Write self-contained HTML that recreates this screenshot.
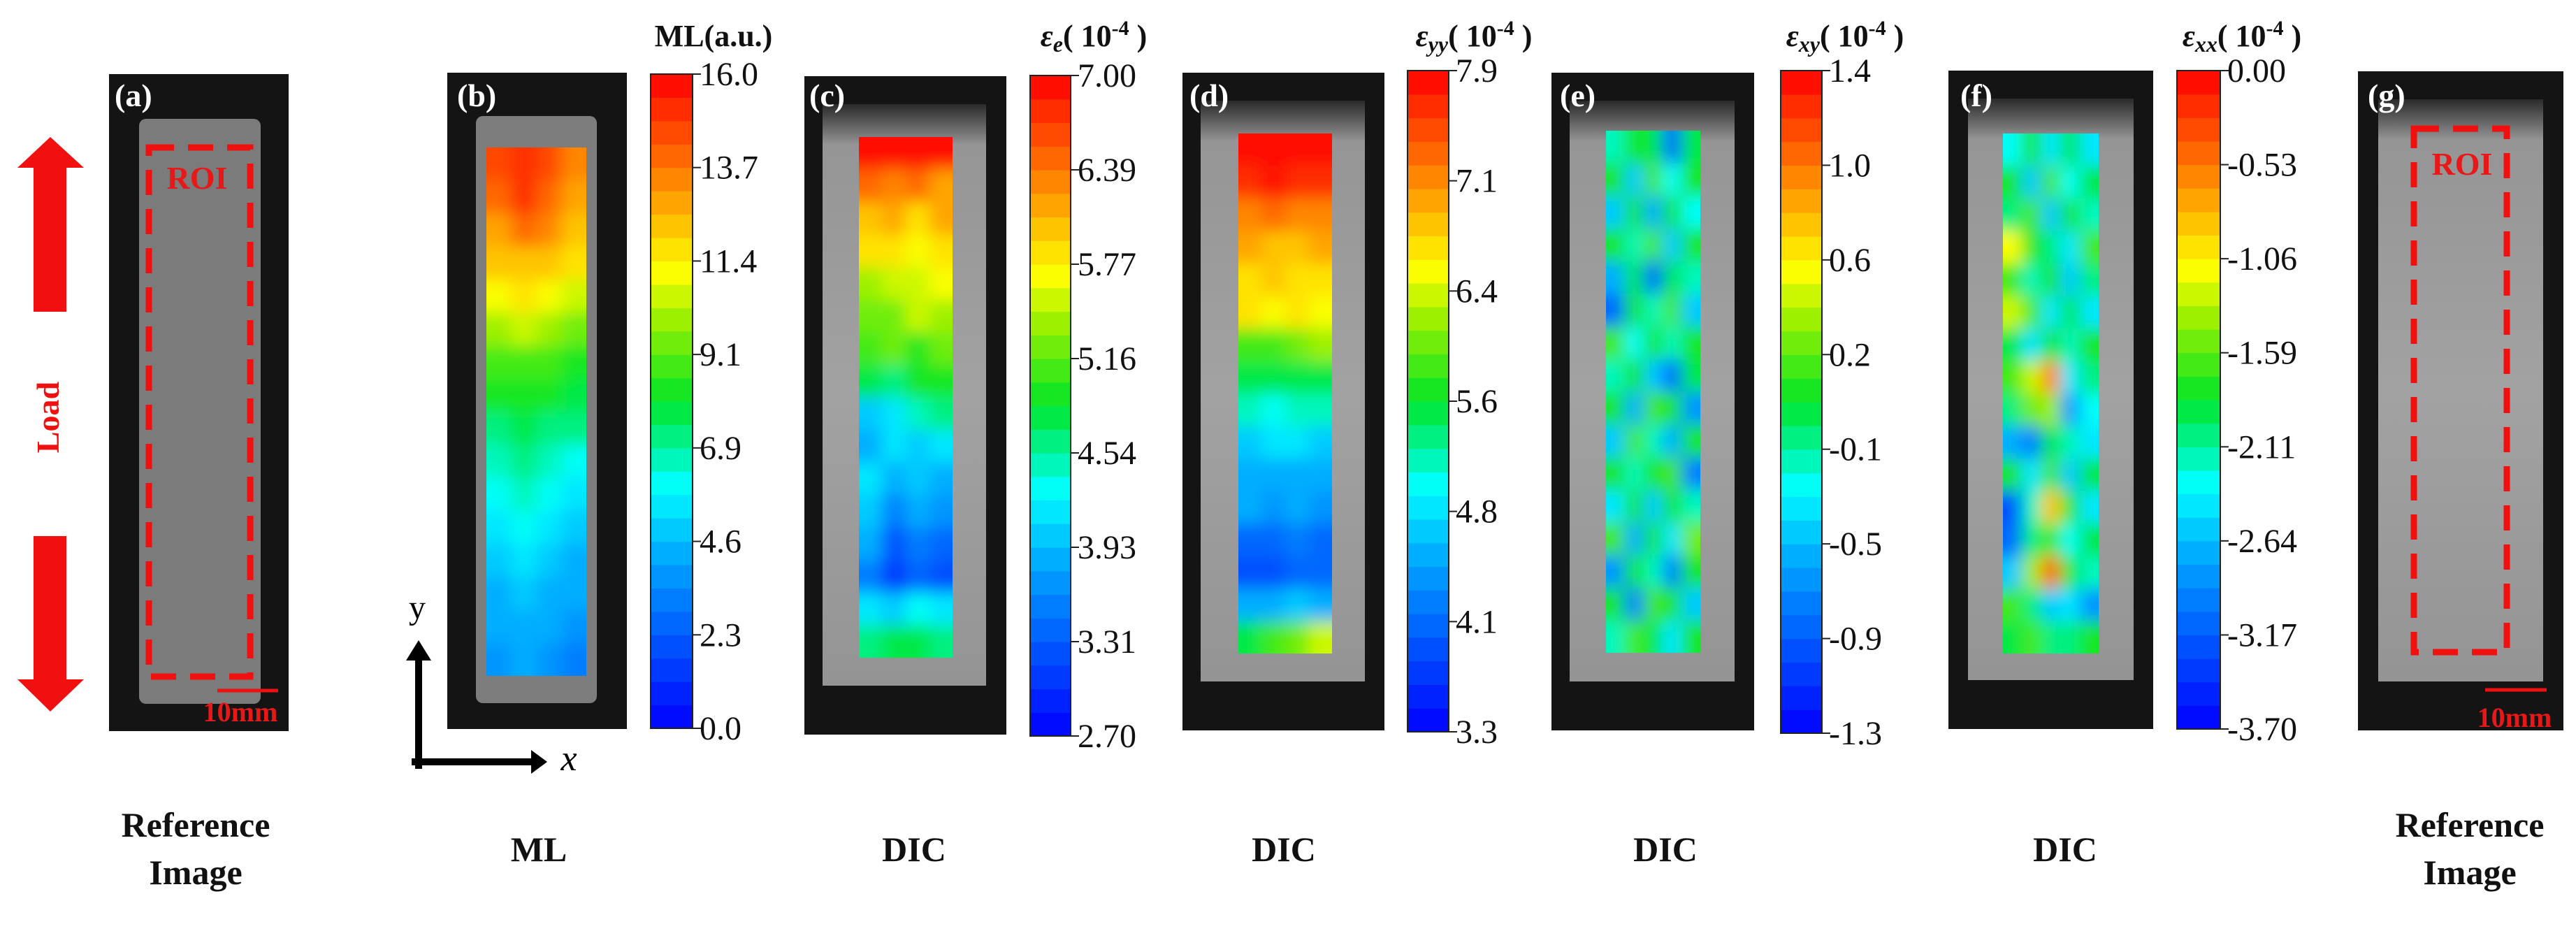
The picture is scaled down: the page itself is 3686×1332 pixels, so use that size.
<!DOCTYPE html>
<html><head><meta charset="utf-8"><style>
html,body{margin:0;padding:0;background:#fff;}
svg{display:block;}
</style></head><body>
<svg id="fig" width="3686" height="1332" viewBox="0 0 3686 1332" xmlns="http://www.w3.org/2000/svg" font-family="Liberation Serif, serif">
<defs>
<linearGradient id="spk" x1="0" y1="0" x2="0" y2="1">
<stop offset="0" stop-color="#2a2a2a"/><stop offset="0.07" stop-color="#959595"/><stop offset="0.5" stop-color="#a2a2a2"/><stop offset="1" stop-color="#949494"/>
</linearGradient>
<filter id="blr" x="-5%" y="-5%" width="110%" height="110%"><feGaussianBlur stdDeviation="12"/></filter>
</defs>
<g id="root" font-family="Liberation Serif, serif"></g>
</svg>
<script>
// ---------- data ----------
const mlTicks = ["16.0","13.7","11.4","9.1","6.9","4.6","2.3","0.0"];
const ceTicks = ["7.00","6.39","5.77","5.16","4.54","3.93","3.31","2.70"];
const cyyTicks = ["7.9","7.1","6.4","5.6","4.8","4.1","3.3"];
const cxyTicks = ["1.4","1.0","0.6","0.2","-0.1","-0.5","-0.9","-1.3"];
const cxxTicks = ["0.00","-0.53","-1.06","-1.59","-2.11","-2.64","-3.17","-3.70"];
const mlRange = [0,16], eRange = [2.7,7.0], yyRange = [3.3,7.9], xyRange = [-1.3,1.4], xxRange = [-3.7,0];
const mlGrid = [[14.5,15,14.5,13.5],[14,15,14,13],[13,14,13.5,12.5],[12,12.5,12,11.5],[11,11.5,11,10.5],[10,10.5,10,9.5],[9,9,9,8.5],[8,8.5,8,7.5],[7,7.5,7,7],[6.5,7,6.5,6],[6,6.5,6,5.5],[5.5,6,5.5,5],[5,5.5,5,4.5],[4.5,5,4.5,4],[4,4.5,4,3.5],[3.5,4,3.5,3]];
const eGrid = [[7,7,7,7],[6.4,6.3,6.5,6.2],[6.0,6.2,5.9,6.1],[5.8,5.9,5.7,5.8],[5.4,5.6,5.5,5.7],[5.2,5.3,5.6,5.4],[5.1,5.2,5.0,5.3],[4.8,4.6,4.9,5.0],[4.0,4.2,4.4,4.6],[3.9,4.1,4.0,4.2],[4.2,3.8,4.0,3.9],[4.0,3.6,3.8,3.7],[3.8,3.2,3.6,3.4],[3.6,3.1,3.4,3.2],[4.2,4.0,4.3,4.1],[4.6,4.7,4.8,4.6]];
const yyGrid = [[7.9,7.9,7.9,7.9],[7.7,7.8,7.7,7.6],[7.2,7.3,7.1,7.2],[7.0,6.9,6.9,7.0],[6.7,6.8,6.7,6.6],[6.6,6.5,6.6,6.5],[5.8,5.9,6.0,6.1],[5.6,5.5,5.6,5.5],[5.2,5.1,5.2,5.2],[4.7,4.8,4.8,4.7],[4.5,4.5,4.6,4.5],[4.6,4.4,4.5,4.3],[4.1,4.0,4.2,4.1],[3.9,3.9,4.0,4.1],[4.6,4.5,4.7,4.6],[5.6,5.9,6.0,6.3]];
const xyGrid = [[-0.2,0.1,0.0,-0.9,0.0],[0.1,-0.5,0.2,-0.3,0.1],[-0.5,0.1,-0.6,0.1,-0.3],[0.1,-0.2,0.2,-0.5,0.1],[-0.6,0.0,-0.9,0.0,-0.2],[-0.9,0.1,-0.2,0.2,-0.5],[0.2,-0.3,0.1,-0.2,0.1],[-0.2,0.1,-0.5,-0.9,0.0],[0.1,-0.6,0.2,0.1,-0.7],[-0.5,0.2,-0.2,-0.6,0.1],[0.1,-0.2,0.1,0.2,-0.8],[-0.4,0.1,-0.5,0.1,-0.2],[0.2,-0.6,0.1,-0.4,0.3],[-0.7,0.1,-0.2,-0.8,0.1],[0.1,-0.8,0.2,0.1,-0.5],[-0.2,0.2,0.0,-0.4,0.1]];
const xxGrid = [[-2.3,-1.8,-2.5,-1.9,-2.4],[-1.8,-2.6,-1.7,-2.3,-1.9],[-2.0,-1.7,-2.6,-1.8,-2.2],[-1.1,-1.8,-2.0,-2.5,-1.6],[-1.6,-2.2,-1.8,-2.6,-2.0],[-1.3,-1.6,-2.4,-1.9,-2.5],[-1.9,-2.5,-1.8,-2.2,-1.8],[-1.6,-1.2,-0.6,-2.4,-2.0],[-2.0,-1.5,-1.4,-2.8,-2.3],[-2.7,-3.0,-1.9,-2.2,-2.5],[-1.8,-2.4,-1.6,-2.6,-1.9],[-3.3,-2.2,-0.9,-1.8,-2.4],[-3.1,-2.0,-1.7,-2.3,-1.9],[-2.6,-1.4,-0.4,-1.9,-2.2],[-1.7,-2.1,-2.6,-2.5,-2.8],[-1.9,-1.6,-2.0,-2.1,-1.8]];

// ---------- helpers ----------
const NS="http://www.w3.org/2000/svg";
const root=document.getElementById('root');
function mk(tag,attrs,parent){const e=document.createElementNS(NS,tag);for(const k in attrs)e.setAttribute(k,attrs[k]);(parent||root).appendChild(e);return e;}
const stops=[[0,[0,0,255]],[0.25,[0,160,255]],[0.37,[0,255,255]],[0.5,[0,230,40]],[0.62,[150,240,0]],[0.7,[255,255,0]],[0.82,[255,150,0]],[1,[255,0,0]]];
function jet(t){t=Math.max(0,Math.min(1,t));
 for(let i=1;i<stops.length;i++){if(t<=stops[i][0]){const a=stops[i-1],b=stops[i];const f=(t-a[0])/(b[0]-a[0]);
  const c=a[1].map((v,k)=>Math.round(v+(b[1][k]-v)*f));return `rgb(${c[0]},${c[1]},${c[2]})`;}}
 return 'rgb(255,0,0)';}
const NB=28;
function quant(t){return (Math.floor(Math.min(0.9999,Math.max(0,t))*NB)+0.5)/NB;}
function txt(x,y,s,size,opts,parent){const t=mk('text',Object.assign({x:x,y:y,'font-size':size,'font-family':'Liberation Serif, serif'},opts||{}),parent);t.textContent=s;return t;}

function frame(name,x,y,w,h){const r=mk('rect',{x:x,y:y,width:w,height:h,fill:'#141414'});return r;}
function panelLabel(s,x,y){const t=txt(x,y,s,46,{fill:'#fff','font-weight':'bold'});}

function heatmap(name,grid,range,x,y,w,h){
 const g=mk('g',{});
 const cid='clip-'+name;const cp=mk('clipPath',{id:cid},g);mk('rect',{x:x,y:y,width:w,height:h},cp);
 const inner=mk('g',{'clip-path':`url(#${cid})`},g);
 const sc=v=>(v-range[0])/(range[1]-range[0]);
 let sum=0,n=0;grid.forEach(r=>r.forEach(v=>{sum+=v;n++;}));
 mk('rect',{x:x,y:y,width:w,height:h,fill:jet(sc(sum/n))},inner);
 const bl=mk('g',{filter:'url(#blr)'},inner);
 const rows=grid.length,cols=grid[0].length,cw=w/cols,ch=h/rows;
 grid.forEach((row,i)=>row.forEach((v,j)=>{
  const c=mk('rect',{x:x+j*cw-(j==0?30:0),y:y+i*ch-(i==0?30:0),width:cw+(j==0||j==cols-1?31:1),height:ch+(i==0||i==rows-1?31:1),fill:jet(quant(sc(v)))},bl);
  
 }));
}

function colorbar(name,ticks,x,y,w,h,titleParts,tx){
 const g=mk('g',{});
 for(let i=0;i<NB;i++){
  const r=mk('rect',{x:x,y:y+h*(NB-1-i)/NB,width:w,height:h/NB+0.6,fill:jet((i+0.5)/NB)},g);
  
 }
 mk('rect',{x:x,y:y,width:w,height:h,fill:'none',stroke:'#222','stroke-width':2},g);
 ticks.forEach((s,i)=>{
  const ty=y+h*i/(ticks.length-1);
  const tk=mk('line',{x1:x+w,x2:x+w+12,y1:ty,y2:ty,stroke:'#222','stroke-width':2},g);
  
  const t=txt(x+w+10,ty+16,s,48,{fill:'#111'},g);
  
 });
 const t=mk('text',{x:tx,y:66,'font-size':44,'font-weight':'bold','text-anchor':'middle',fill:'#111','font-family':'Liberation Serif, serif'},g);
 
 titleParts(t);
}
function epsTitle(sub){return t=>{
 const a=mk('tspan',{'font-style':'italic'},t);a.textContent='ε';
 const b=mk('tspan',{'font-style':'italic','font-size':32,dy:8},t);b.textContent=sub;
 const c=mk('tspan',{dy:-8},t);c.textContent='( 10';
 const d=mk('tspan',{'font-size':30,dy:-16},t);d.textContent='-4';
 const e=mk('tspan',{dy:16},t);e.textContent=' )';
};}
function bottomLabel(lines,cx){lines.forEach((s,i)=>{const t=txt(cx,lines.length>1?1197+i*68:1232,s,50,{'font-weight':'bold','text-anchor':'middle',fill:'#111'});});}
function roi(x,y,w,h,tx,ty){const r=mk('rect',{x:x,y:y,width:w,height:h,fill:'none',stroke:'#f01010','stroke-width':9,'stroke-dasharray':'36,20'});
 const t=txt(tx,ty,'ROI',46,{fill:'#e81818','font-weight':'bold','text-anchor':'middle'});}
function scalebar(x1,x2,y,tx,ty){const l=mk('line',{x1:x1,x2:x2,y1:y,y2:y,stroke:'#f01010','stroke-width':5});
 const t=txt(tx,ty,'10mm',40,{fill:'#e81818','font-weight':'bold','text-anchor':'middle'});}

// ---------- panel a ----------
frame('panel-a-frame',156,106,257,940);
mk('rect',{x:199,y:170,width:174,height:837,rx:10,fill:'#7b7b7b'});
roi(213,211,145,757,282,270);
scalebar(311,398,988,344,1032);
panelLabel('(a)',164,152);
const up=mk('path',{d:'M48,446 L48,240 L25,240 L72,196 L120,240 L95,240 L95,446 Z',fill:'#f01010'});
const dn=mk('path',{d:'M48,767 L48,972 L25,972 L72,1018 L120,972 L95,972 L95,767 Z',fill:'#f01010'});
const ld=txt(0,0,'Load',46,{fill:'#f01010','font-weight':'bold','text-anchor':'middle',transform:'translate(84,597) rotate(-90)'});
bottomLabel(['Reference','Image'],280);

// ---------- panel b ----------
frame('panel-b-frame',640,104,257,939);
mk('rect',{x:681,y:166,width:173,height:840,rx:10,fill:'#7d7d7d'});
heatmap('ml-map',mlGrid,mlRange,696,211,143,756);
panelLabel('(b)',654,152);
colorbar('ml-colorbar',mlTicks,931,106,60,936,t=>{t.textContent='ML(a.u.)';},1021);
const ya=mk('path',{d:'M594,1100 L594,945 L581,945 L599,916 L617,945 L604,945 L604,1100 Z',fill:'#000'});
const xa=mk('path',{d:'M589,1085 L760,1085 L760,1073 L783,1090 L760,1107 L760,1095 L589,1095 Z',fill:'#000'});
const yl=txt(597,885,'y',48,{'text-anchor':'middle',fill:'#000'});
const xl=txt(814,1102,'x',52,{'text-anchor':'middle','font-style':'italic',fill:'#000'});
bottomLabel(['ML'],771);

// ---------- speckle panels ----------
function specPanel(name,fx,fy,fw,fh,sx,sw){frame(name,fx,fy,fw,fh);const s=mk('rect',{x:sx,y:fy+40,width:sw,height:fh-110,fill:'url(#spk)'});}
specPanel('panel-c-frame',1151,109,289,942,1177,234);
heatmap('strain-e-map',eGrid,eRange,1229,196,134,745);
panelLabel('(c)',1158,152);
colorbar('strain-e-colorbar',ceTicks,1474,108,58,945,epsTitle('e'),1565);
bottomLabel(['DIC'],1308);

specPanel('panel-d-frame',1692,104,289,941,1718,235);
heatmap('strain-yy-map',yyGrid,yyRange,1772,191,134,744);
panelLabel('(d)',1702,152);
colorbar('strain-yy-colorbar',cyyTicks,2014,101,59,946,epsTitle('yy'),2109);
bottomLabel(['DIC'],1837);

specPanel('panel-e-frame',2220,104,290,941,2246,236);
heatmap('strain-xy-map',xyGrid,xyRange,2298,187,135,747);
panelLabel('(e)',2232,152);
colorbar('strain-xy-colorbar',cxyTicks,2548,101,59,948,epsTitle('xy'),2640);
bottomLabel(['DIC'],2383);

specPanel('panel-f-frame',2788,101,293,942,2816,237);
heatmap('strain-xx-map',xxGrid,xxRange,2866,191,137,744);
panelLabel('(f)',2805,152);
colorbar('strain-xx-colorbar',cxxTicks,3115,101,62,942,epsTitle('xx'),3208);
bottomLabel(['DIC'],2955);

specPanel('panel-g-frame',3374,102,294,943,3403,236);
roi(3454,184,133,749,3523,250);
scalebar(3556,3644,987,3598,1040);
panelLabel('(g)',3388,152);
bottomLabel(['Reference','Image'],3534);
</script>
</body></html>
